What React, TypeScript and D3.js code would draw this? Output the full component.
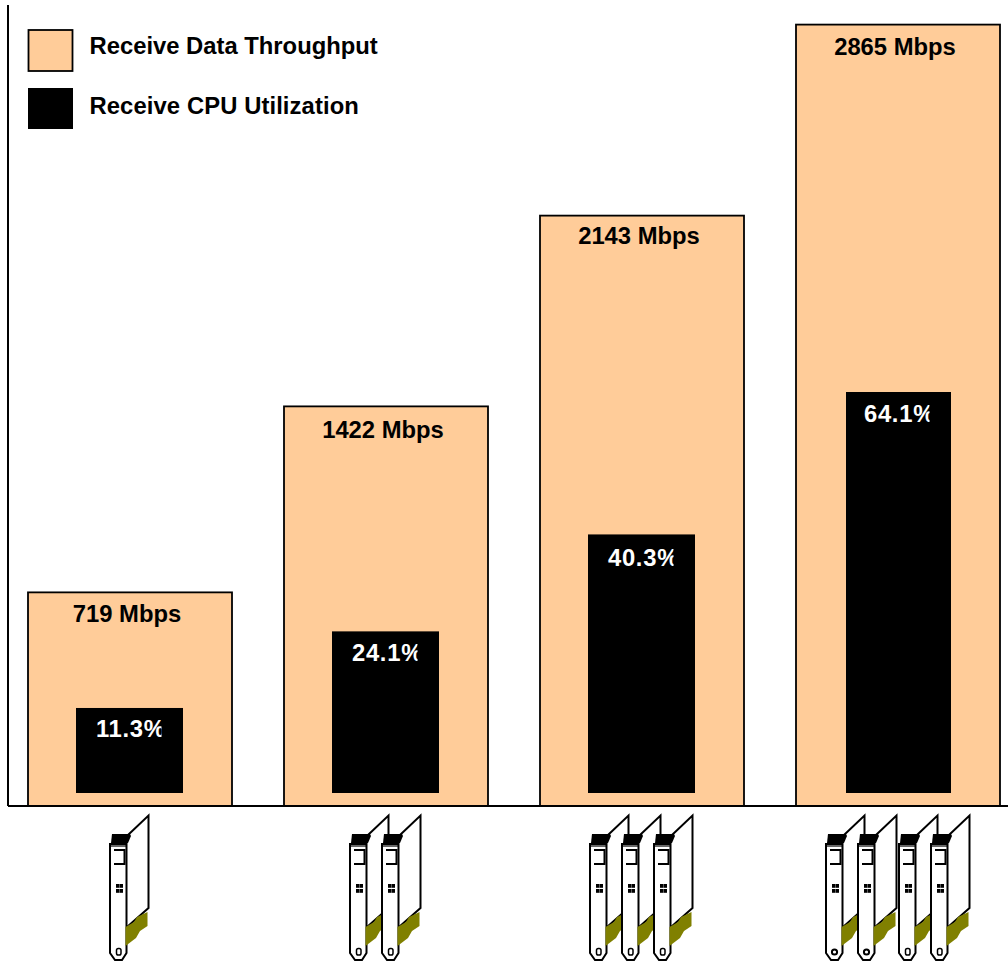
import React from "react";
import * as d3 from "d3";

// Receive performance as adapters are added
const adapterCounts = ["1", "2", "3", "4"];
const throughputMbps = [719, 1422, 2143, 2865];
const cpuPercent = [11.3, 24.1, 40.3, 64.1];
const legendLabels = ["Receive Data Throughput", "Receive CPU Utilization"];
const cardOffsets = [[90], [330, 362], [570, 602, 634], [806, 838, 879, 911]];

const WIDTH = 1008;
const HEIGHT = 961;
const FLOOR = 806;
const CPU_FLOOR = 793;
const ORANGE = "#FFCC99";
const FONT = "'Liberation Sans', Arial, sans-serif";
const LABEL_SIZE = 23.8;
const throughputLabelDrop = [30, 32, 28, 30];
const cpuLabelDrop = [29, 30, 32, 30];
const cpuBarInset = [48, 48, 48, 50];
const cpuBarWidth = [107, 107, 107, 105];

const x = d3.scaleBand<string>().domain(adapterCounts).range([28, 1000]).paddingInner(52 / 256).paddingOuter(0);
// The bars stand on a floor below the axis zero, so both scales carry an offset zero.
const yThroughput = d3.scaleLinear().domain([0, 2865]).range([782.6, 24.6]);
const yCpu = d3.scaleLinear().domain([0, 64.1]).range([775.6, 392]);

const outline = d3.line();

function Card({ left, round }: { left: number; round: boolean }) {
  return (
    <g transform={`translate(${left},805)`}>
      <path d={outline([[38, 30], [58.5, 10.5], [58.5, 103], [37, 122]]) ?? ""} fill="#fff" stroke="#000" strokeWidth={2} />
      <path d={outline([[20, 39], [36.5, 39], [36.5, 148], [32, 155], [25, 155], [20, 148]]) + "Z"} fill="#fff" stroke="#000" strokeWidth={2} />
      <path d="M35.5,122 L44,117 L47,112 L57.5,107 L57.5,121 L50,126 L46,133 L35.5,141 Z" fill="#808000" />
      <path d="M22,29 L40,29 L41,31 L38,38 L21,38 Z" fill="#000" />
      <path d="M20,41 L36.5,41" stroke="#000" strokeWidth={1.2} />
      <path d="M24,45 L34.5,45 L34.5,59 L24,59" fill="#fff" stroke="#000" strokeWidth={2} />
      <rect x={26} y={79} width={3.4} height={3.8} fill="#000" />
      <rect x={29.6} y={79} width={3.4} height={3.8} fill="#000" />
      <rect x={26} y={84} width={3.4} height={3.8} fill="#000" />
      <rect x={29.6} y={84} width={3.4} height={3.8} fill="#000" />
      {round ? (
        <circle cx={28.5} cy={147} r={2.6} fill="#fff" stroke="#000" strokeWidth={2} />
      ) : (
        <rect x={26.5} y={143.5} width={4.5} height={6.5} rx={1.8} fill="#fff" stroke="#000" strokeWidth={1.5} />
      )}
    </g>
  );
}

export default function App() {
  return (
    <svg
      width={WIDTH}
      height={HEIGHT}
      viewBox={`0 0 ${WIDTH} ${HEIGHT}`}
      style={{ position: "absolute", left: 0, top: 0, background: "#fff" }}
      fontFamily={FONT}
      fontWeight="bold"
    >
      {adapterCounts.map((c, i) => {
        const bx = x(c) ?? 0;
        const top = yThroughput(throughputMbps[i]);
        const cpuTop = yCpu(cpuPercent[i]);
        const cpuX = bx + cpuBarInset[i];
        const clipRight = bx + 133.5;
        return (
          <g key={c}>
            <rect x={bx} y={top} width={x.bandwidth()} height={FLOOR - top} fill={ORANGE} stroke="#000" strokeWidth={1.8} />
            <text x={bx + 99} y={top + throughputLabelDrop[i]} textAnchor="middle" fontSize={LABEL_SIZE} fill="#000">
              {throughputMbps[i]} Mbps
            </text>
            <rect x={cpuX} y={cpuTop} width={cpuBarWidth[i]} height={CPU_FLOOR - cpuTop} fill="#000" />
            <clipPath id={`cpu-text-${c}`}>
              <rect x={cpuX} y={cpuTop} width={clipRight - cpuX} height={60} />
            </clipPath>
            <text x={bx + 68} y={cpuTop + cpuLabelDrop[i]} fontSize={LABEL_SIZE} letterSpacing={0.7} fill="#fff" clipPath={`url(#cpu-text-${c})`}>
              {cpuPercent[i]}%
            </text>
            {cardOffsets[i].map((left, j) => (
              <Card key={j} left={left} round={i === 3 && j < 2} />
            ))}
          </g>
        );
      })}

      <line x1={8} y1={5} x2={8} y2={FLOOR} stroke="#000" strokeWidth={2} />
      <line x1={8} y1={FLOOR} x2={WIDTH} y2={FLOOR} stroke="#000" strokeWidth={2} />

      <rect x={28.5} y={30} width={44} height={41} fill={ORANGE} stroke="#000" strokeWidth={1.8} />
      <rect x={28} y={88} width={45} height={41} fill="#000" />
      <text x={89.5} y={54} fontSize={LABEL_SIZE} fill="#000">{legendLabels[0]}</text>
      <text x={89.5} y={114} fontSize={LABEL_SIZE} letterSpacing={0.1} fill="#000">{legendLabels[1]}</text>
    </svg>
  );
}
